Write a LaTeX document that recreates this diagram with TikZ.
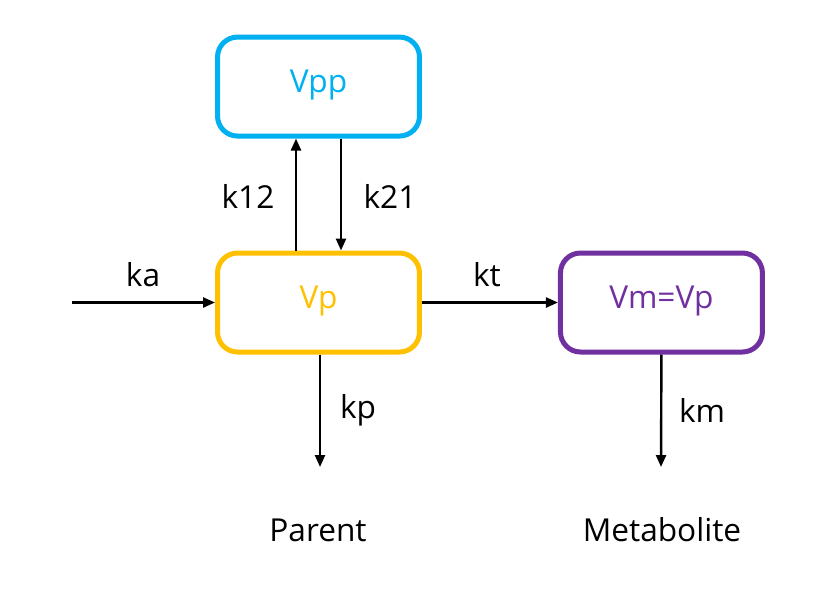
\documentclass[tikz,border=0pt]{standalone}
\usepackage{fontspec}
\setmainfont{Open Sans}
\usepackage{tikz}
\usetikzlibrary{arrows.meta, positioning, calc}

\definecolor{vppblue}{HTML}{00B0F0}
\definecolor{vpgold}{HTML}{FFC000}
\definecolor{vmpurple}{HTML}{7030A0}

\begin{document}
\begin{tikzpicture}[
  x=0.02cm, y=-0.02cm,
  comp/.style={rectangle, draw, line width=0.1cm, rounded corners=0.4cm, minimum width=4.04cm, minimum height=1.98cm, text height=0.72em, text depth=0pt, align=center, font=\fontsize{18}{21}\selectfont},
  flow/.style={line width=0.048cm, -{Triangle[length=0.24cm, width=0.2cm]}},
  rate/.style={font=\fontsize{18}{21}\selectfont}
]
  \useasboundingbox (0,0) rectangle (837,603);
  \node[comp, draw=vpgold, text=vpgold] (vp) at (318.5,302.5) {Vp};
  \node[comp, draw=vppblue, text=vppblue, above=2.24cm of vp] (vpp) {Vpp};
  \node[comp, draw=vmpurple, text=vmpurple, right=2.72cm of vp] (vm) {Vm=Vp};
  % free ends
  \coordinate (dose) at (72,302.5);
  \coordinate (pend) at (320,467);
  \coordinate (mend) at (661,467);
  \draw[flow] (dose) -- (vp.west);
  \draw[flow] (vp.east) -- (vm.west);
  \draw[flow] ($(vp.north)+(-22.5,0)$) -- ($(vpp.south)+(-22.5,0)$);
  \draw[flow] ($(vpp.south)+(22.5,0)$) -- ($(vp.north)+(22.5,0)$);
  \draw[flow] (vp.south -| pend) -- (pend);
  \draw[flow] (vm.south) -- (mend);
  % rate labels
  \node[rate] (ka) at (143,275) {ka};
  \node[rate] (kt) at (487,275) {kt};
  \node[rate] (k12) at (248,196) {k12};
  \node[rate] (k21) at (390,196) {k21};
  \node[rate] (kp) at (358,410) {kp};
  \node[rate] (km) at (702,410) {km};
  \node[rate] (parent) at (318,530) {Parent};
  \node[rate] (metab) at (662,530) {Metabolite};
\end{tikzpicture}
\end{document}
